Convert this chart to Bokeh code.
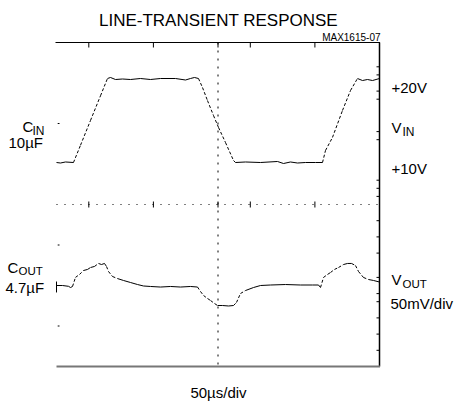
import numpy as np
from bokeh.plotting import figure
from bokeh.models import Range1d, Label, ColumnDataSource
from bokeh.embed import file_html
from bokeh.resources import INLINE

# ---------------- data ----------------
title_text = "LINE-TRANSIENT RESPONSE"
fig_id = "MAX1615-07"
time_label = "50\u00b5s/div"

# input voltage trace: time in microseconds, volts
vin_t = [0, 6.2, 13.9, 26.3, 37.2, 52.6, 68.1, 78.9, 83.6, 91.3, 102.2, 114.6,
         130.0, 145.5, 161.0, 184.2, 199.7, 207.4, 213.6, 219.8, 226.0, 233.7,
         243.0, 250.8, 261.6, 274.0, 277.1, 292.6, 315.8, 342.1, 351.4, 362.2,
         373.1, 385.4, 400.9, 411.8, 416.4, 427.2, 442.7, 455.1, 465.9, 473.7,
         481.4, 489.2, 500]
vin_v = [10.0, 9.94, 10.06, 10.0, 12.06, 15.0, 17.94, 20.0, 20.12, 19.88, 19.94,
         19.88, 20.0, 19.88, 20.0, 20.0, 19.82, 20.0, 20.12, 20.0, 18.93, 17.38,
         15.6, 14.17, 12.38, 10.24, 10.0, 10.06, 10.0, 10.12, 9.88, 10.06, 9.94,
         10.0, 10.0, 10.0, 11.43, 12.98, 16.19, 18.57, 20.0, 19.76, 19.88, 19.76,
         20.0]

# output voltage deviation: time in microseconds, millivolts
vout_t = [0, 9.3, 18.6, 21.7, 24.8, 29.4, 35.6, 41.8, 48.0, 52.6, 58.8, 65.0,
          69.7, 74.3, 77.4, 80.5, 86.7, 94.4, 103.7, 114.6, 125.4, 134.7, 145.5,
          161.0, 176.5, 192.0, 207.4, 218.3, 222.9, 227.6, 233.7, 238.4, 244.6,
          249.2, 257.0, 266.3, 274.0, 278.6, 284.8, 292.6, 305.0, 315.8, 331.3,
          354.5, 377.7, 396.3, 405.6, 408.7, 413.3, 419.5, 424.1, 430.3, 436.5,
          444.3, 450.5, 456.7, 462.8, 467.5, 475.2, 483.0, 490.7, 500]
vout_mv = [0, 0, -1, -2.5, -1.2, 10, 13.6, 18.5, 19.8, 22.2, 23.5, 27.2, 25.9,
           27.2, 23.5, 17.3, 11.1, 8.6, 6.2, 3.7, 1.2, -0.6, -1.2, -1.9, -1.2,
           -1.9, -1.2, -1.9, -7.4, -12.3, -16.0, -18.5, -22.2, -24.7, -24.7,
           -25.3, -24.7, -21.0, -9.9, -6.2, -2.5, 0, 0.6, 1.2, 0.6, 0.6, 0.6,
           -2.5, 9.9, 13.6, 16.0, 19.8, 22.2, 25.9, 27.2, 27.2, 24.7, 17.3, 9.9,
           7.4, 6.2, 4.3]

# graticule tick positions (time in us, vertical position in divisions)
top_ticks_t = [50, 150, 250, 300, 400]
right_ticks_div = [3.4, 3.2, 2.8, 2.6, 1.8, 1.6, 0.6, 0.4, 0.2, -0.4, -0.8,
                   -1.2, -1.8, -2.2, -2.4, -2.8, -3.2, -3.6]
left_marks_div = [2, -1, -3]

# ---------------- layout ----------------
# the canvas covers the whole picture; scope screen is x 56..379, y 42..366
W, H = 455, 404
SX0, SX1, SY0, SY1 = 56, 379, 42, 366          # screen box in picture pixels
PX_PER_US = (SX1 - SX0) / 500.0
PX_PER_DIV = (SY1 - SY0) / 8.0
PX_PER_V = 8.4
PX_PER_MV = PX_PER_DIV / 50.0
Y_MID = (SY0 + SY1) / 2.0
Y_10V = 162.0
Y_0MV = 285.0


def t_at(X):
    return (X - SX0) / PX_PER_US


def div_at(Y):
    return (Y_MID - Y) / PX_PER_DIV


x_rng = Range1d(t_at(0), t_at(W))
vin_rng = Range1d(10 + (Y_10V - H) / PX_PER_V, 10 + Y_10V / PX_PER_V)
vout_rng = Range1d((Y_0MV - H) / PX_PER_MV, Y_0MV / PX_PER_MV)
div_rng = Range1d(div_at(H), div_at(0))

p = figure(width=W, height=H, output_backend="svg", toolbar_location=None,
           title=None, x_axis_type=None, y_axis_type=None,
           x_range=x_rng, y_range=vin_rng,
           min_border=0, min_border_left=0, min_border_right=0,
           min_border_top=0, min_border_bottom=0)
p.extra_y_ranges = {"vout": vout_rng, "div": div_rng}
p.outline_line_color = None
p.background_fill_color = "white"
p.border_fill_color = "white"

px_t = 1 / PX_PER_US
px_div = 1 / PX_PER_DIV

# frame: top, right, bottom
p.segment(x0=[t_at(55)], x1=[500 + 0.5 * px_t], y0=[4], y1=[4], y_range_name="div",
          line_color="black", line_width=1)
p.segment(x0=[500], x1=[500], y0=[4], y1=[-4], y_range_name="div",
          line_color="black", line_width=1.5)
p.segment(x0=[0], x1=[500 + 0.5 * px_t], y0=[-4], y1=[-4], y_range_name="div",
          line_color="#777777", line_width=2)
# center graticule lines (dotted)
p.segment(x0=[250], x1=[250], y0=[4], y1=[-4], y_range_name="div",
          line_color="black", line_width=1, line_dash="2 6")
p.segment(x0=[0], x1=[500], y0=[0], y1=[0], y_range_name="div",
          line_color="black", line_width=1, line_dash="1 7")

tt = np.array(top_ticks_t, dtype=float)
p.segment(x0=tt, x1=tt, y0=[4] * len(tt), y1=[4 - 5 * px_div] * len(tt),
          y_range_name="div", line_color="black", line_width=1)
p.segment(x0=tt, x1=tt, y0=[3 * px_div] * len(tt), y1=[-3 * px_div] * len(tt),
          y_range_name="div", line_color="black", line_width=1)
rt = np.array(right_ticks_div, dtype=float)
p.segment(x0=[500 - 3 * px_t] * len(rt), x1=[500] * len(rt), y0=rt, y1=rt,
          y_range_name="div", line_color="black", line_width=1)
lm = np.array(left_marks_div, dtype=float)
p.segment(x0=[1.2 * px_t] * len(lm), x1=[3 * px_t] * len(lm), y0=lm, y1=lm,
          y_range_name="div", line_color="black", line_width=1)

# channel-2 reference marker
p.segment(x0=[0], x1=[0], y0=[-8.6], y1=[4.9],
          y_range_name="vout", line_color="black", line_width=1)


def draw_trace(t, v, yscale, range_name=None, thresh=0.6):
    t = np.asarray(t, float)
    v = np.asarray(v, float)
    dxp = np.diff(t) * PX_PER_US
    dyp = np.diff(v) * yscale
    steep = np.abs(dyp) > thresh * np.abs(dxp)
    kw = {} if range_name is None else {"y_range_name": range_name}
    for mask, dash in ((~steep, "solid"), (steep, "3 2")):
        src = ColumnDataSource(dict(x0=t[:-1][mask], x1=t[1:][mask],
                                    y0=v[:-1][mask], y1=v[1:][mask]))
        p.segment("x0", "y0", "x1", "y1", source=src, line_color="black",
                  line_width=1, line_dash=dash, **kw)


draw_trace(vin_t, vin_v, PX_PER_V, None, 0.8)
draw_trace(vout_t, vout_mv, PX_PER_MV, "vout", 0.4)

# ---------------- texts ----------------
FONT = "Liberation Sans"


def lab(text, X, Y, size, align="left"):
    p.add_layout(Label(x=t_at(X), y=div_at(Y), y_range_name="div",
                       text=text, text_font=FONT, text_font_size=f"{size}px",
                       text_align=align, text_baseline="alphabetic",
                       text_color="black"))


lab(title_text, 218, 20, 17, "center")
lab(fig_id, 380, 37, 10, "right")
lab("+20V", 391, 87, 15)
lab("V", 391, 127, 15)
lab("IN", 402, 131, 12)
lab("+10V", 391, 168, 15)
lab("V", 391, 279, 15)
lab("OUT", 402, 283, 11.5)
lab("50mV/div", 390, 303, 15)
lab("C", 22, 126, 15)
lab("IN", 32, 130, 12)
lab("10\u00b5F", 8, 142, 15)
lab("C", 7, 267, 15)
lab("OUT", 18, 270, 11.5)
lab("4.7\u00b5F", 5, 287, 15)
lab(time_label, 218, 392, 15, "center")

open("out.html", "w").write(file_html(p, INLINE))
